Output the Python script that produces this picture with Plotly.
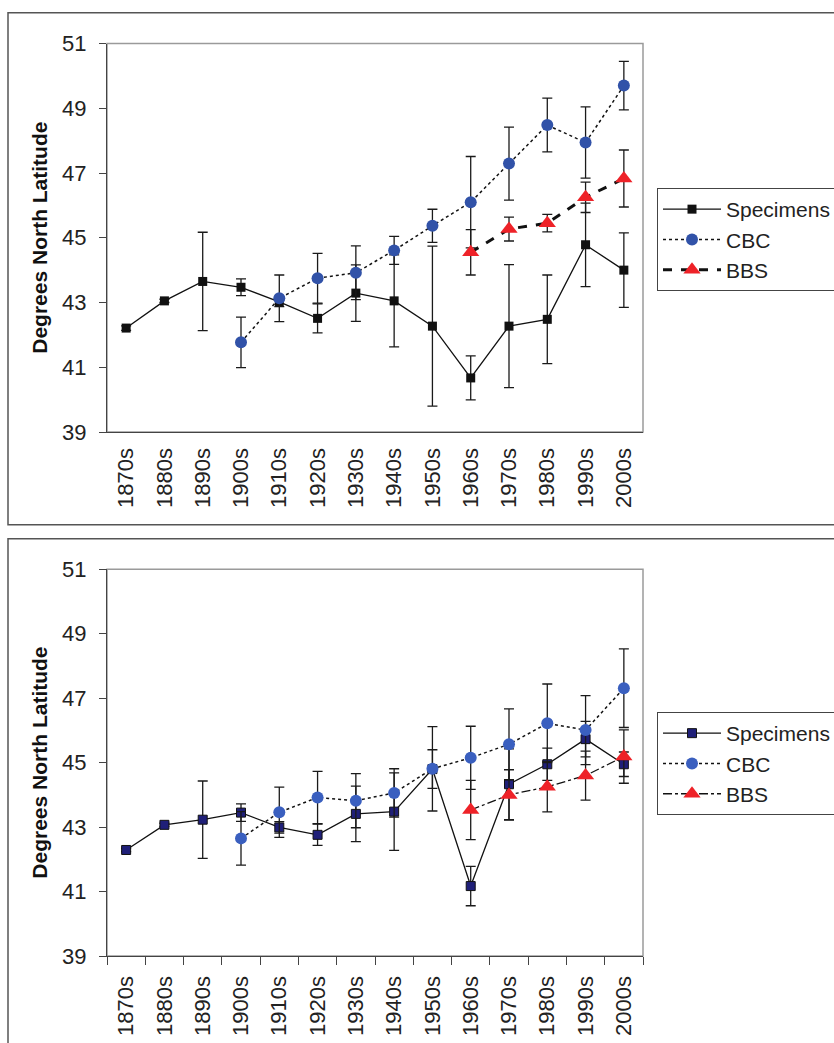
import plotly.graph_objects as go

W, H = 834, 1043

decades = ["1870s", "1880s", "1890s", "1900s", "1910s", "1920s", "1930s",
           "1940s", "1950s", "1960s", "1970s", "1980s", "1990s", "2000s"]
yticks = [39, 41, 43, 45, 47, 49, 51]

# ---- top panel ----
top_spec = [42.21, 43.05, 43.65, 43.47, 43.02, 42.51, 43.29, 43.05, 42.27, 40.67, 42.27, 42.48, 44.78, 44.00]
top_spec_err = [0.07, 0.05, 1.52, 0.26, 0.15, 0.45, 0.87, 1.42, 2.47, 0.68, 1.90, 1.37, 1.29, 1.15]
top_cbc = [None, None, None, 41.77, 43.13, 43.75, 43.92, 44.61, 45.37, 46.10, 47.29, 48.48, 47.94, 49.70]
top_cbc_err = [None, None, None, 0.78, 0.72, 0.77, 0.83, 0.43, 0.51, 1.41, 1.13, 0.83, 1.10, 0.75]
top_bbs = [None, None, None, None, None, None, None, None, None, 44.55, 45.27, 45.45, 46.25, 46.83]
top_bbs_err = [None, None, None, None, None, None, None, None, None, 0.70, 0.37, 0.27, 0.47, 0.88]

# ---- bottom panel ----
bot_spec = [42.29, 43.07, 43.23, 43.45, 42.99, 42.76, 43.41, 43.48, 44.80, 41.17, 44.33, 44.95, 45.73, 44.95]
bot_spec_err = [0.05, 0.05, 1.20, 0.27, 0.18, 0.33, 0.86, 1.20, 0.60, 0.61, 1.10, 0.50, 0.55, 0.38]
bot_cbc = [None, None, None, 42.65, 43.46, 43.92, 43.82, 44.06, 44.81, 45.15, 45.57, 46.22, 46.01, 47.31]
bot_cbc_err = [None, None, None, 0.83, 0.78, 0.81, 0.84, 0.75, 1.31, 0.98, 1.10, 1.22, 1.07, 1.22]
bot_bbs = [None, None, None, None, None, None, None, None, None, 43.53, 44.00, 44.25, 44.60, 45.19]
bot_bbs_err = [None, None, None, None, None, None, None, None, None, 0.92, 0.78, 0.78, 0.76, 0.83]

FONT = "Arial, Liberation Sans, sans-serif"
ERR = dict(type="data", visible=True, color="#1a1a1a", thickness=1.3, width=5)


def err(a):
    return dict(ERR, array=a)


fig = go.Figure()

# top traces
fig.add_trace(go.Scatter(x=decades, y=top_spec, error_y=err(top_spec_err), name="Specimens",
                         mode="lines+markers", line=dict(color="#111111", width=1.3),
                         marker=dict(symbol="square", size=9, color="#111111"),
                         xaxis="x", yaxis="y", legend="legend"))
fig.add_trace(go.Scatter(x=decades, y=top_cbc, error_y=err(top_cbc_err), name="CBC",
                         mode="lines+markers", line=dict(color="#111111", width=1.5, dash="dot"),
                         marker=dict(symbol="circle", size=12, color="#3152a8"),
                         xaxis="x", yaxis="y", legend="legend"))
fig.add_trace(go.Scatter(x=decades, y=top_bbs, error_y=err(top_bbs_err), name="BBS",
                         mode="lines+markers", line=dict(color="#111111", width=3, dash="dash"),
                         marker=dict(symbol="triangle-up", size=15, color="#ee2228"),
                         xaxis="x", yaxis="y", legend="legend"))

# bottom traces
fig.add_trace(go.Scatter(x=decades, y=bot_spec, error_y=err(bot_spec_err), name="Specimens",
                         mode="lines+markers", line=dict(color="#111111", width=1.3),
                         marker=dict(symbol="square", size=9, color="#1f1f78",
                                     line=dict(color="#111111", width=1)),
                         xaxis="x2", yaxis="y2", legend="legend2"))
fig.add_trace(go.Scatter(x=decades, y=bot_cbc, error_y=err(bot_cbc_err), name="CBC",
                         mode="lines+markers", line=dict(color="#111111", width=1.5, dash="dot"),
                         marker=dict(symbol="circle", size=12, color="#3a5fbf"),
                         xaxis="x2", yaxis="y2", legend="legend2"))
fig.add_trace(go.Scatter(x=decades, y=bot_bbs, error_y=err(bot_bbs_err), name="BBS",
                         mode="lines+markers", line=dict(color="#111111", width=1.3, dash="dashdot"),
                         marker=dict(symbol="triangle-up", size=15, color="#ee2228"),
                         xaxis="x2", yaxis="y2", legend="legend2"))

xdom = [107 / W, 643 / W]
top_dom = [1 - 432 / H, 1 - 43.5 / H]
bot_dom = [1 - 956 / H, 1 - 569.3 / H]

tickfont = dict(family=FONT, size=22, color="#222222")
yax = dict(range=[39, 51], tickvals=yticks, showgrid=False, zeroline=False,
           showline=True, linecolor="#444444", linewidth=1.3, ticks="outside",
           ticklen=7, tickcolor="#444444", tickfont=tickfont, fixedrange=True,
           automargin=False, ticklabelstandoff=8)
xax = dict(type="category", categoryorder="array", categoryarray=decades,
           range=[-0.5, 13.5], showgrid=False, zeroline=False, showline=True,
           linecolor="#444444", linewidth=1.3, tickangle=-90, tickfont=tickfont,
           fixedrange=True, automargin=False)

legend_common = dict(font=dict(family=FONT, size=21, color="#222222"),
                     bgcolor="white", bordercolor="#444444", borderwidth=1,
                     xanchor="left", yanchor="top", itemwidth=58,
                     tracegroupgap=0)

fig.update_layout(
    width=W, height=H, margin=dict(l=0, r=0, t=0, b=0, autoexpand=False),
    paper_bgcolor="white", plot_bgcolor="white",
    font=dict(family=FONT, size=20, color="#222222"),
    xaxis=dict(xax, domain=xdom, anchor="y", ticks="", ticklabelstandoff=6),
    yaxis=dict(yax, domain=top_dom, anchor="x"),
    xaxis2=dict(xax, domain=xdom, anchor="y2", ticks="outside", tickson="boundaries",
                ticklen=8, tickcolor="#444444", ticklabelstandoff=10),
    yaxis2=dict(yax, domain=bot_dom, anchor="x2"),
    legend=dict(legend_common, x=657 / W, y=1 - 188 / H),
    legend2=dict(legend_common, x=657 / W, y=1 - 712 / H),
    showlegend=True,
    shapes=[
        # outer panel boxes
        dict(type="rect", xref="paper", yref="paper", x0=8 / W, x1=1.05,
             y0=1 - 524.7 / H, y1=1 - 12.7 / H, line=dict(color="#555555", width=1.5)),
        dict(type="rect", xref="paper", yref="paper", x0=8 / W, x1=1.05,
             y0=-0.05, y1=1 - 538.7 / H, line=dict(color="#555555", width=1.5)),
        # plot-area borders
        dict(type="rect", xref="x domain", yref="y domain", x0=0, x1=1, y0=0, y1=1,
             line=dict(color="#9a9a9a", width=1.5), layer="below"),
        dict(type="rect", xref="x2 domain", yref="y2 domain", x0=0, x1=1, y0=0, y1=1,
             line=dict(color="#9a9a9a", width=1.5), layer="below"),
    ],
    annotations=[
        dict(text="<b>Degrees North Latitude</b>", textangle=-90, showarrow=False,
             xref="paper", yref="paper", x=40 / W, y=(top_dom[0] + top_dom[1]) / 2,
             xanchor="center", yanchor="middle",
             font=dict(family=FONT, size=21, color="#111111")),
        dict(text="<b>Degrees North Latitude</b>", textangle=-90, showarrow=False,
             xref="paper", yref="paper", x=40 / W, y=(bot_dom[0] + bot_dom[1]) / 2,
             xanchor="center", yanchor="middle",
             font=dict(family=FONT, size=21, color="#111111")),
    ],
)

fig.write_html("out.html")
